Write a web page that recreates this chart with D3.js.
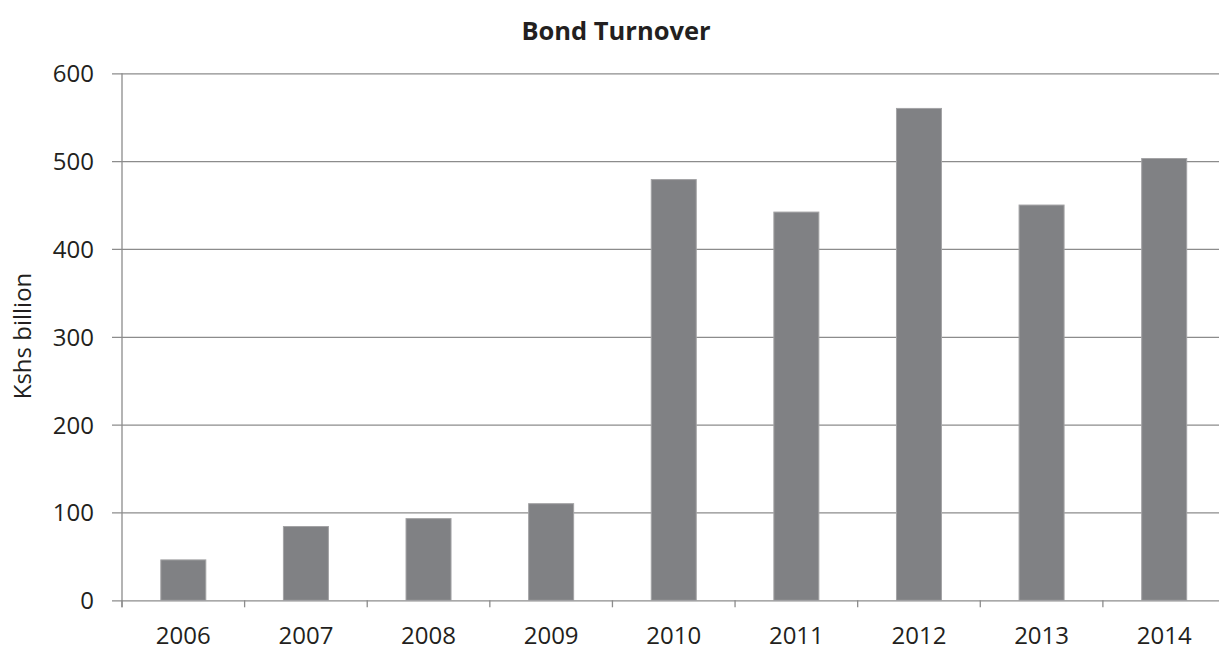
<!DOCTYPE html>
<html>
<head>
<meta charset="utf-8">
<script src="https://cdn.jsdelivr.net/npm/d3@7"></script>
<style>
  html, body { margin: 0; padding: 0; background: #fff; }
  svg { display: block; }
  text { font-family: "Open Sans", "DejaVu Sans", sans-serif; fill: #231f20; }
</style>
</head>
<body>
<script>
const categories = ["2006", "2007", "2008", "2009", "2010", "2011", "2012", "2013", "2014"];
const values = [46, 84, 93, 110, 479, 442, 560, 450, 503];
const yTicks = [0, 100, 200, 300, 400, 500, 600];
const title = "Bond Turnover";
const yLabel = "Kshs billion";

const W = 1219, H = 651;
const svg = d3.select("body").append("svg").attr("width", W).attr("height", H);

const x0 = 122, x1 = 1225.5, yTop = 73.3, yBot = 600.3;
const x = d3.scaleBand().domain(categories).range([x0, x1]).paddingInner(0.633).paddingOuter(0.3165);
const y = d3.scaleLinear().domain([0, 600]).range([yBot, yTop]);

const gridColor = "#8c8c8c";

// gridlines with left outward ticks
const yAxis = d3.axisLeft(y).tickValues(yTicks).tickSize(-(W - x0)).tickSizeOuter(0).tickPadding(18);
const gy = svg.append("g").attr("transform", `translate(${x0},0)`).call(yAxis);
gy.select(".domain").remove();
gy.selectAll(".tick line").attr("stroke", gridColor).attr("stroke-width", 1.3).attr("x1", -10);
gy.selectAll(".tick text").attr("font-size", 24).attr("fill", "#231f20")
  .attr("font-family", "'Open Sans', sans-serif").attr("x", -28).attr("dy", "0.35em");

// bars
svg.append("g").selectAll("rect").data(categories).join("rect")
  .attr("x", d => x(d))
  .attr("y", (d, i) => y(values[i]))
  .attr("width", x.bandwidth())
  .attr("height", (d, i) => y(0) - y(values[i]))
  .attr("fill", "#808184")
  .attr("stroke", "#a3a3a5")
  .attr("stroke-width", 1);

// left axis line
svg.append("line").attr("x1", x0).attr("x2", x0).attr("y1", yTop).attr("y2", yBot + 7)
  .attr("stroke", gridColor).attr("stroke-width", 1.3);

// x axis ticks between categories
const step = x.step();
const xb = d3.range(categories.length + 1).map(i => x0 + i * step);
svg.append("g").selectAll("line").data(xb).join("line")
  .attr("x1", d => d).attr("x2", d => d).attr("y1", yBot).attr("y2", yBot + 7)
  .attr("stroke", gridColor).attr("stroke-width", 1.3);

// x labels via axis
const xAxis = d3.axisBottom(x).tickSize(0).tickPadding(0);
const gx = svg.append("g").attr("transform", `translate(0,${yBot})`).call(xAxis);
gx.select(".domain").remove();
gx.selectAll(".tick text").attr("font-size", 24).attr("fill", "#231f20")
  .attr("font-family", "'Open Sans', sans-serif").attr("y", 44).attr("dy", 0);

// title
svg.append("text").attr("x", 616).attr("y", 40).attr("text-anchor", "middle")
  .attr("font-size", 25.5).attr("font-weight", "bold").text(title);

// y label
svg.append("text").attr("transform", "translate(31,336) rotate(-90)")
  .attr("text-anchor", "middle").attr("font-size", 24).text(yLabel);
</script>
</body>
</html>
